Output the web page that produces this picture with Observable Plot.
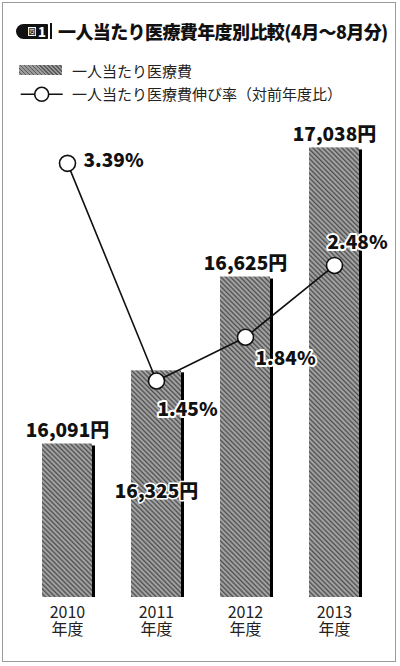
<!DOCTYPE html>
<html><head><meta charset="utf-8">
<script src="https://cdn.jsdelivr.net/npm/d3@7"></script>
<script src="https://cdn.jsdelivr.net/npm/@observablehq/plot@0.6"></script>
<style>
body{margin:0;background:#fff;font-family:"Noto Sans CJK JP","Noto Sans",sans-serif;color:#111;}
#wrap{position:relative;width:400px;height:666px;overflow:hidden;background:#fff;}
#frame{position:absolute;left:2px;top:2px;width:394px;height:660px;border:1px solid #9a9a9a;box-sizing:border-box;}
#title{position:absolute;left:16px;top:18px;height:26px;display:flex;align-items:center;white-space:nowrap;}
.badge{display:flex;align-items:center;background:#111;height:15px;width:32px;border-radius:8px 1px 1px 8px;box-sizing:border-box;padding-left:12px;}
.badge .zu{display:inline-block;width:8px;height:9px;background:#fff;color:#111;font-size:7px;line-height:9px;text-align:center;font-weight:700;}
.badge .one{color:#fff;font-size:13px;font-weight:900;line-height:15px;margin-left:2px;}
.bar{display:inline-block;width:2px;height:16px;background:#111;margin-left:2px;}
.ttext{font-size:18px;font-weight:900;letter-spacing:-0.6px;margin-left:6px;line-height:26px;}
.leg{position:absolute;left:72px;font-size:15px;line-height:20px;color:#222;white-space:nowrap;}
#sw{position:absolute;left:19px;top:65px;width:43px;height:10px;background:repeating-linear-gradient(45deg,#9a9a9a 0px,#9a9a9a 1.6px,#5a5a5a 1.6px,#5a5a5a 2.8px);}
#lsw{position:absolute;left:18px;top:85px;}
.layer{position:absolute;left:0;top:105px;}
</style>
</head><body>
<div id="wrap">
  <div id="frame"></div>
  <div id="title"><span class="badge"><span class="zu">図</span><span class="one">1</span></span><span class="bar"></span><span class="ttext">一人当たり医療費年度別比較(4月～8月分)</span></div>
  <div id="sw"></div>
  <div class="leg" style="top:61px">一人当たり医療費</div>
  <svg id="lsw" width="48" height="20"><line x1="2.7" x2="44.7" y1="9.3" y2="9.3" stroke="#111" stroke-width="1.6"/><circle cx="23.7" cy="9.3" r="7" fill="#fff" stroke="#111" stroke-width="1.6"/></svg>
  <div class="leg" style="top:84px">一人当たり医療費伸び率（対前年度比）</div>
  <div class="layer" id="bars"></div>
  <div class="layer" id="line"></div>
</div>
<script>
const years = ["2010", "2011", "2012", "2013"];
const costs = [16091, 16325, 16625, 17038];
const costLabels = ["16,091円", "16,325円", "16,625円", "17,038円"];
const rates = [3.39, 1.45, 1.84, 2.48];
const rateLabels = ["3.39%", "1.45%", "1.84%", "2.48%"];
const yearSuffix = "年度";

const data = years.map((y, i) => ({year: y, cost: costs[i], costLabel: costLabels[i], rate: rates[i], rateLabel: rateLabels[i]}));
const font = '"Noto Sans CJK JP", "Noto Sans", sans-serif';
const xOpts = {type: "band", domain: years, range: [2.4, 399], padding: 0.44, label: null};
const base = 15600;

const barPlot = Plot.plot({
  width: 400, height: 555,
  marginTop: 23, marginBottom: 63, marginLeft: 0, marginRight: 0,
  style: {fontFamily: font, background: "transparent", overflow: "visible"},
  x: xOpts,
  y: {domain: [base, 17100], axis: null},
  marks: [
    Plot.barY(data, {x: "year", y1: base, y2: "cost", fill: "#000", dx: 3, insetTop: 2}),
    Plot.barY(data, {x: "year", y1: base, y2: "cost", fill: "url(#hatch)"}),
    Plot.text(data.filter(d => d.year !== "2011"), {x: "year", y: "cost", text: "costLabel", dy: -13, fontSize: 19, fontWeight: 900, fill: "#111", stroke: "#fff", strokeWidth: 3}),
    Plot.text(data.filter(d => d.year === "2011"), {x: "year", y: "cost", text: "costLabel", dy: 121, fontSize: 19, fontWeight: 900, fill: "#111", stroke: "#fff", strokeWidth: 3}),
    Plot.axisX({tickSize: 0, tickPadding: 9, fontSize: 16, fill: "#222", label: null}),
    Plot.axisX({tickSize: 0, tickPadding: 26, fontSize: 16, fill: "#222", label: null, tickFormat: () => yearSuffix})
  ]
});
d3.select(barPlot).insert("defs", ":first-child").html(
  '<pattern id="hatch" patternUnits="userSpaceOnUse" width="3.4" height="3.4" patternTransform="rotate(-45)">' +
  '<rect width="3.4" height="3.4" fill="#8e8e8e"/>' +
  '<rect x="0" width="1.1" height="3.4" fill="#4e4e4e"/>' +
  '<rect x="2" width="0.7" height="3.4" fill="#b8b8b8"/></pattern>'
);
document.getElementById("bars").appendChild(barPlot);

const labelStyle = {x: "year", y: "rate", text: "rateLabel", textAnchor: "start", fontSize: 19, fontWeight: 900, fill: "#111", stroke: "#fff", strokeWidth: 4};
const pick = y => data.filter(d => d.year === y);
const linePlot = Plot.plot({
  width: 400, height: 555,
  marginTop: 0, marginBottom: 0, marginLeft: 0, marginRight: 0,
  style: {fontFamily: font, background: "transparent", overflow: "visible"},
  x: {...xOpts, axis: null},
  y: {domain: [1, 3.5], range: [326, 45.5], axis: null},
  marks: [
    Plot.line(data, {x: "year", y: "rate", stroke: "#111", strokeWidth: 1.6}),
    Plot.dot(data, {x: "year", y: "rate", r: 8, fill: "#fff", stroke: "#111", strokeWidth: 1.6}),
    Plot.text(pick("2010"), {...labelStyle, dx: 16, dy: -2}),
    Plot.text(pick("2011"), {...labelStyle, dx: 1, dy: 29}),
    Plot.text(pick("2012"), {...labelStyle, dx: 10, dy: 22}),
    Plot.text(pick("2013"), {...labelStyle, dx: -7, dy: -23})
  ]
});
document.getElementById("line").appendChild(linePlot);
</script>
</body></html>
